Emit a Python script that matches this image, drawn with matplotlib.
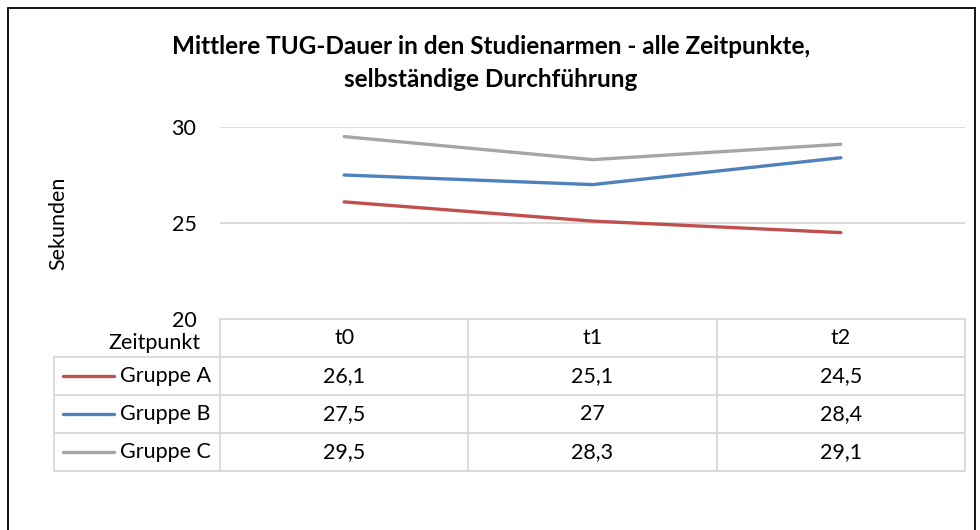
import numpy as np
import matplotlib.pyplot as plt
from matplotlib.patches import Rectangle

plt.rcParams['font.family'] = ['Lato', 'DejaVu Sans']

zeitpunkte = ['t0', 't1', 't2']
gruppen = ['Gruppe A', 'Gruppe B', 'Gruppe C']
gruppe_a = [26.1, 25.1, 24.5]
gruppe_b = [27.5, 27.0, 28.4]
gruppe_c = [29.5, 28.3, 29.1]
farben = ['#c0504d', '#4f81bd', '#a5a5a5']
yticks = [20, 25, 30]

W, H = 980, 530


def box(l, t, r, b):
    # pixel box -> figure fractions
    return [l / W, 1 - b / H, (r - l) / W, (b - t) / H]


def fmt(v):
    return f'{v:g}'.replace('.', ',')


fig = plt.figure(figsize=(W / 100, H / 100), dpi=100)

# outer frame
fig.patches.append(Rectangle((8 / W, -0.05), (975 - 8) / W, 1 - 8 / H + 0.05,
                             transform=fig.transFigure, fill=False,
                             edgecolor='black', linewidth=1.3))

fig.text(491 / W, 1 - 63 / H,
         'Mittlere TUG-Dauer in den Studienarmen - alle Zeitpunkte,\nselbständige Durchführung',
         ha='center', va='center', fontsize=17.5, fontweight='bold', linespacing=1.55)

# line chart
ax = fig.add_axes(box(220, 127, 965, 319))
x = np.arange(len(zeitpunkte))
for werte, farbe in zip([gruppe_a, gruppe_b, gruppe_c], farben):
    ax.plot(x, werte, color=farbe, linewidth=2.4, solid_capstyle='round')
ax.set_xlim(-0.5, len(zeitpunkte) - 0.5)
ax.set_ylim(20, 30)
ax.set_yticks(yticks)
ax.set_yticklabels([str(t) for t in yticks], fontsize=15.5)
ax.tick_params(axis='y', length=0, pad=17)
ax.set_xticks([])
for y in yticks[1:]:
    ax.axhline(y, color='#d9d9d9', linewidth=1.3, zorder=0)
for s in ax.spines.values():
    s.set_visible(False)
ax.set_ylabel('Sekunden', fontsize=15.5)
ax.yaxis.set_label_coords(-0.203, 0.5)

# data table
tax = fig.add_axes(box(220, 319, 965, 471))
tax.set_xlim(-0.5, len(zeitpunkte) - 0.5)
tax.set_ylim(len(gruppen) + 1, 0)
tax.axis('off')
x_left = -0.5 - (220 - 54) / (745 / len(zeitpunkte))
lc = '#d9d9d9'
lw = 1.3
tax.plot([-0.5, 2.5], [0, 0], color=lc, lw=lw, clip_on=False)
for r in range(1, len(gruppen) + 2):
    tax.plot([x_left, 2.5], [r, r], color=lc, lw=lw, clip_on=False)
for c in np.arange(-0.5, len(zeitpunkte)):
    tax.plot([c, c], [0, len(gruppen) + 1], color=lc, lw=lw, clip_on=False)
tax.plot([x_left, x_left], [1, len(gruppen) + 1], color=lc, lw=lw, clip_on=False)

tax.text(-0.58, 0.62, 'Zeitpunkt', ha='right', va='center', fontsize=15.5)
for i, t in enumerate(zeitpunkte):
    tax.text(i, 0.5, t, ha='center', va='center', fontsize=15.5)

for r, (name, werte, farbe) in enumerate(zip(gruppen, [gruppe_a, gruppe_b, gruppe_c], farben), start=1):
    tax.plot([x_left + 0.035, x_left + 0.24], [r + 0.5, r + 0.5], color=farbe,
             lw=2.4, solid_capstyle='round', clip_on=False)
    tax.text(x_left + 0.265, r + 0.5, name, ha='left', va='center', fontsize=15.5)
    for i, v in enumerate(werte):
        tax.text(i, r + 0.5, fmt(v), ha='center', va='center', fontsize=15.5)

fig.savefig('out.png', dpi=100)
